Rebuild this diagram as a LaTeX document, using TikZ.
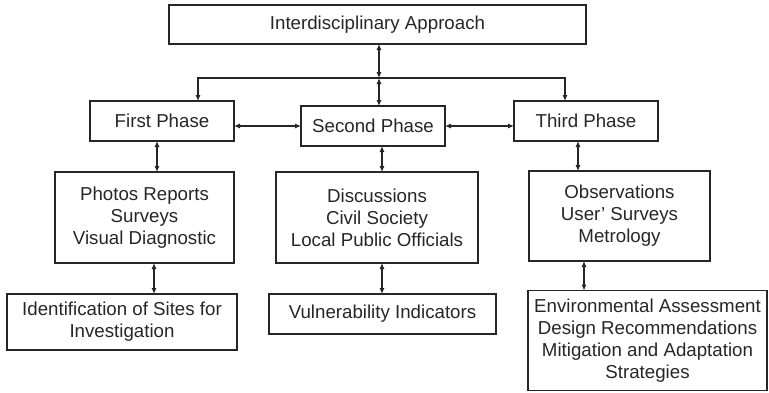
\documentclass[tikz,border=0pt]{standalone}
\usepackage{fontspec}
\setmainfont{Liberation Sans}
\usetikzlibrary{arrows.meta}
\definecolor{ink}{HTML}{262626}

\begin{document}
\begin{tikzpicture}[x=0.5pt,y=-0.5pt,>={Latex[length=3pt,width=2.6pt]},
  box/.style={draw=ink,line width=0.7pt,inner sep=0pt,outer sep=0pt,align=center,text=ink,font=\fontsize{9.35}{11}\selectfont},
  link/.style={draw=ink,line width=0.6pt}]
\useasboundingbox (0,0) rectangle (769,392);
% top and the three phases
\node[box,minimum width=208.5pt,minimum height=19.5pt] (top) at (377.5,24.5) {Interdisciplinary Approach};
\node[box,minimum width=72pt,minimum height=20pt] (first) at (162,121) {First Phase};
\node[box,minimum width=72pt,minimum height=20pt] (second) at (373,126) {Second Phase};
\node[box,minimum width=72pt,minimum height=20pt] (third) at (586,121) {Third Phase};
% methods of each phase
\node[box,minimum width=89.5pt,minimum height=45.5pt] (photos) at (144.5,217.5) {Photos Reports\\Surveys\\Visual Diagnostic};
\node[box,minimum width=101pt,minimum height=45.5pt] (talks) at (377,217.5) {Discussions\\Civil Society\\Local Public Officials};
\node[box,minimum width=90.5pt,minimum height=45pt] (obs) at (619.5,216) {Observations\\User' Surveys\\Metrology};
% outcomes
\node[box,minimum width=115pt,minimum height=28pt] (sites) at (122,322) {Identification of Sites for\\Investigation};
\node[box,minimum width=113.5pt,minimum height=20pt] (vuln) at (382.5,314) {Vulnerability Indicators};
\node[box,minimum width=119.5pt,minimum height=50pt] (env) at (647.5,340.5) {Environmental Assessment\\Design Recommendations\\Mitigation and Adaptation\\Strategies};

\coordinate (hub) at (379,78);
\coordinate (dropL) at (198,0);
\coordinate (dropR) at (565,0);
\coordinate (laneA) at (157,0);
\coordinate (laneB) at (154,0);
\coordinate (laneC) at (382,0);
\coordinate (laneD) at (578,0);
\coordinate (laneE) at (584,0);

\draw[link,<->] (top.south -| hub) -- (hub);
\draw[link,<->] (hub) -- (second.north -| hub);
\draw[link,->] (hub) -| (first.north -| dropL);
\draw[link,->] (hub) -| (third.north -| dropR);
\draw[link,<->] ([yshift=-2.5pt]first.east) -- ([yshift=-2.5pt]first.east -| second.west);
\draw[link,<->] ([yshift=-2.5pt]third.west -| second.east) -- ([yshift=-2.5pt]third.west);
\draw[link,<->] (first.south -| laneA) -- (photos.north -| laneA);
\draw[link,<->] (second.south -| laneC) -- (talks.north -| laneC);
\draw[link,<->] (third.south -| laneD) -- (obs.north -| laneD);
\draw[link,<->] (photos.south -| laneB) -- (sites.north -| laneB);
\draw[link,<->] (talks.south -| laneC) -- (vuln.north -| laneC);
\draw[link,<->] (obs.south -| laneE) -- (env.north -| laneE);
\end{tikzpicture}
\end{document}
